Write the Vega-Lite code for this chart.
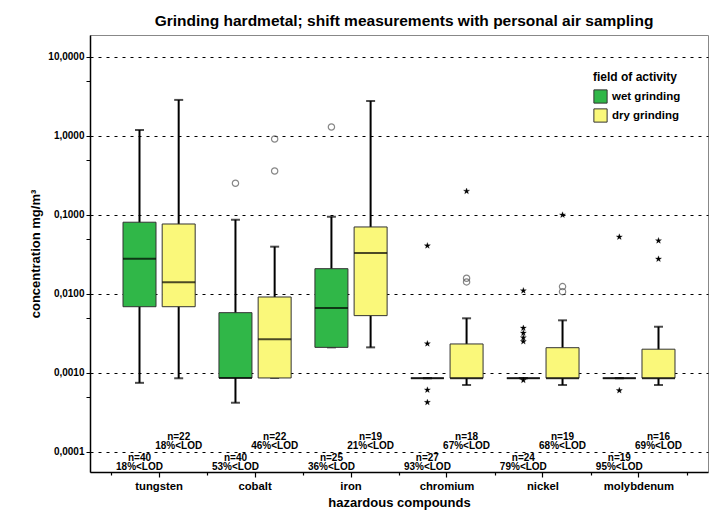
{
  "$schema": "https://vega.github.io/schema/vega-lite/v6.json",
  "width": 618,
  "height": 437,
  "autosize": {"type": "none"},
  "padding": {"left": 90, "top": 35, "right": 9, "bottom": 38},
  "config": {
    "font": "Liberation Sans",
    "view": {"stroke": "#888", "strokeWidth": 1},
    "title": {"fontSize": 15.5, "fontWeight": "bold", "color": "#000", "offset": 6, "anchor": "middle", "dx": 5}
  },
  "title": "Grinding hardmetal; shift measurements with personal air sampling",
  "datasets": {
    "boxes": [
      {"compound": "tungsten", "activity": "wet grinding", "lower": 0.00075, "q1": 0.0069, "median": 0.028, "q3": 0.081, "upper": 1.19},
      {"compound": "tungsten", "activity": "dry grinding", "lower": 0.000857, "q1": 0.0069, "median": 0.01406, "q3": 0.0769, "upper": 2.86},
      {"compound": "cobalt", "activity": "wet grinding", "lower": 0.00042, "q1": 0.000865, "median": 0.000865, "q3": 0.0058, "upper": 0.087},
      {"compound": "cobalt", "activity": "dry grinding", "lower": 0.000865, "q1": 0.000865, "median": 0.00267, "q3": 0.00916, "upper": 0.0397},
      {"compound": "iron", "activity": "wet grinding", "lower": 0.00211, "q1": 0.00211, "median": 0.00665, "q3": 0.0209, "upper": 0.095},
      {"compound": "iron", "activity": "dry grinding", "lower": 0.00211, "q1": 0.00532, "median": 0.033, "q3": 0.0705, "upper": 2.77},
      {"compound": "chromium", "activity": "wet grinding", "lower": 0.00086, "q1": 0.00086, "median": 0.00086, "q3": 0.00086, "upper": 0.00086},
      {"compound": "chromium", "activity": "dry grinding", "lower": 0.000705, "q1": 0.00086, "median": 0.00086, "q3": 0.00233, "upper": 0.00492},
      {"compound": "nickel", "activity": "wet grinding", "lower": 0.00086, "q1": 0.00086, "median": 0.00086, "q3": 0.00086, "upper": 0.00086},
      {"compound": "nickel", "activity": "dry grinding", "lower": 0.000705, "q1": 0.00086, "median": 0.00086, "q3": 0.00209, "upper": 0.00464},
      {"compound": "molybdenum", "activity": "wet grinding", "lower": 0.00086, "q1": 0.00086, "median": 0.00086, "q3": 0.00086, "upper": 0.00086},
      {"compound": "molybdenum", "activity": "dry grinding", "lower": 0.000705, "q1": 0.00086, "median": 0.00086, "q3": 0.002, "upper": 0.00385}
    ],
    "outliers": [
      {"compound": "cobalt", "activity": "wet grinding", "value": 0.252, "kind": "outlier"},
      {"compound": "cobalt", "activity": "dry grinding", "value": 0.916, "kind": "outlier"},
      {"compound": "cobalt", "activity": "dry grinding", "value": 0.36, "kind": "outlier"},
      {"compound": "iron", "activity": "wet grinding", "value": 1.3, "kind": "outlier"},
      {"compound": "chromium", "activity": "wet grinding", "value": 0.0408, "kind": "extreme"},
      {"compound": "chromium", "activity": "wet grinding", "value": 0.00235, "kind": "extreme"},
      {"compound": "chromium", "activity": "wet grinding", "value": 0.00061, "kind": "extreme"},
      {"compound": "chromium", "activity": "wet grinding", "value": 0.000425, "kind": "extreme"},
      {"compound": "chromium", "activity": "dry grinding", "value": 0.2, "kind": "extreme"},
      {"compound": "chromium", "activity": "dry grinding", "value": 0.0158, "kind": "outlier"},
      {"compound": "chromium", "activity": "dry grinding", "value": 0.0142, "kind": "outlier"},
      {"compound": "nickel", "activity": "wet grinding", "value": 0.011, "kind": "extreme"},
      {"compound": "nickel", "activity": "wet grinding", "value": 0.0037, "kind": "extreme"},
      {"compound": "nickel", "activity": "wet grinding", "value": 0.0032, "kind": "extreme"},
      {"compound": "nickel", "activity": "wet grinding", "value": 0.0028, "kind": "extreme"},
      {"compound": "nickel", "activity": "wet grinding", "value": 0.0025, "kind": "extreme"},
      {"compound": "nickel", "activity": "wet grinding", "value": 0.00081, "kind": "extreme"},
      {"compound": "nickel", "activity": "dry grinding", "value": 0.1, "kind": "extreme"},
      {"compound": "nickel", "activity": "dry grinding", "value": 0.0124, "kind": "outlier"},
      {"compound": "nickel", "activity": "dry grinding", "value": 0.0107, "kind": "outlier"},
      {"compound": "molybdenum", "activity": "wet grinding", "value": 0.0527, "kind": "extreme"},
      {"compound": "molybdenum", "activity": "wet grinding", "value": 0.0006, "kind": "extreme"},
      {"compound": "molybdenum", "activity": "dry grinding", "value": 0.0473, "kind": "extreme"},
      {"compound": "molybdenum", "activity": "dry grinding", "value": 0.0277, "kind": "extreme"}
    ],
    "labels": [
      {"compound": "tungsten", "activity": "wet grinding", "n": "n=40", "lod": "18%<LOD"},
      {"compound": "tungsten", "activity": "dry grinding", "n": "n=22", "lod": "18%<LOD"},
      {"compound": "cobalt", "activity": "wet grinding", "n": "n=40", "lod": "53%<LOD"},
      {"compound": "cobalt", "activity": "dry grinding", "n": "n=22", "lod": "46%<LOD"},
      {"compound": "iron", "activity": "wet grinding", "n": "n=25", "lod": "36%<LOD"},
      {"compound": "iron", "activity": "dry grinding", "n": "n=19", "lod": "21%<LOD"},
      {"compound": "chromium", "activity": "wet grinding", "n": "n=27", "lod": "93%<LOD"},
      {"compound": "chromium", "activity": "dry grinding", "n": "n=18", "lod": "67%<LOD"},
      {"compound": "nickel", "activity": "wet grinding", "n": "n=24", "lod": "79%<LOD"},
      {"compound": "nickel", "activity": "dry grinding", "n": "n=19", "lod": "68%<LOD"},
      {"compound": "molybdenum", "activity": "wet grinding", "n": "n=19", "lod": "95%<LOD"},
      {"compound": "molybdenum", "activity": "dry grinding", "n": "n=16", "lod": "69%<LOD"}
    ]
  },
  "resolve": {"axis": {"x": "independent"}},
  "layer": [
    {
      "encoding": {
        "x": {
          "field": "compound", "type": "nominal",
          "sort": ["tungsten", "cobalt", "iron", "chromium", "nickel", "molybdenum"],
          "scale": {"paddingInner": 0, "paddingOuter": 0.22},
          "axis": {
            "orient": "bottom",
            "title": "hazardous compounds", "titleFontSize": 13, "titleFontWeight": "bold", "titleColor": "#000", "titlePadding": 5,
            "labelAngle": 0, "labelFontSize": 11.3, "labelFontWeight": "bold", "labelColor": "#000", "labelPadding": 3,
            "domainColor": "#000", "domainWidth": 1.5, "tickColor": "#000", "tickSize": 5, "tickWidth": 1.2, "grid": false
          }
        },
        "xOffset": {
          "field": "activity", "type": "nominal",
          "scale": {"domain": ["wet grinding", "dry grinding"], "paddingInner": 0, "paddingOuter": 0.2245}
        }
      },
      "layer": [
        {
          "data": {"name": "boxes"},
          "mark": {"type": "rule", "color": "#000", "strokeWidth": 2},
          "encoding": {
            "y": {
              "field": "lower", "type": "quantitative",
              "scale": {"type": "log", "domain": [0.0000558, 18.97], "nice": false},
              "axis": {
                "orient": "left",
                "title": "concentration mg/m³", "titleFontSize": 13, "titleFontWeight": "bold", "titleColor": "#000", "titlePadding": 5,
                "values": [0.0001, 0.0005, 0.001, 0.005, 0.01, 0.05, 0.1, 0.5, 1, 5, 10],
                "labelExpr": "abs(log(datum.value)/LN10 - round(log(datum.value)/LN10)) < 0.01 ? replace(format(datum.value, '.4f'), '.', ',') : ''",
                "labelFontSize": 10, "labelFontWeight": "bold", "labelColor": "#000", "labelPadding": 2,
                "domainColor": "#000", "domainWidth": 1.5, "tickColor": "#000", "tickWidth": 1, "tickSize": 4,
                "grid": true, "gridColor": "#000", "gridDash": [3, 5], "gridWidth": 1,
                "gridOpacity": {"condition": {"test": "abs(log(datum.value)/LN10 - round(log(datum.value)/LN10)) < 0.01", "value": 1}, "value": 0}
              }
            },
            "y2": {"field": "upper"}
          }
        },
        {
          "data": {"name": "boxes"},
          "mark": {"type": "tick", "color": "#000", "thickness": 2, "size": 9, "orient": "horizontal"},
          "encoding": {"y": {"field": "lower", "type": "quantitative"}}
        },
        {
          "data": {"name": "boxes"},
          "mark": {"type": "tick", "color": "#000", "thickness": 2, "size": 9, "orient": "horizontal"},
          "encoding": {"y": {"field": "upper", "type": "quantitative"}}
        },
        {
          "data": {"name": "boxes"},
          "mark": {"type": "bar", "width": 33, "stroke": "#333", "strokeWidth": 1, "opacity": 1},
          "encoding": {
            "y": {"field": "q1", "type": "quantitative"},
            "y2": {"field": "q3"},
            "color": {
              "field": "activity", "type": "nominal",
              "scale": {"domain": ["wet grinding", "dry grinding"], "range": ["#30B748", "#FAF87A"]},
              "legend": {
                "title": "field of activity", "orient": "none", "legendX": 503, "legendY": 37,
                "titleFontSize": 12, "titleFontWeight": "bold", "titleColor": "#000", "titlePadding": 5,
                "labelFontSize": 11.5, "labelFontWeight": "bold", "labelColor": "#000", "labelOffset": 4,
                "symbolType": "square", "symbolSize": 175, "symbolStrokeColor": "#333", "symbolStrokeWidth": 1, "symbolOpacity": 1,
                "rowPadding": 0
              }
            }
          }
        },
        {
          "data": {"name": "boxes"},
          "mark": {"type": "tick", "color": "#000", "thickness": 2, "size": 33, "orient": "horizontal"},
          "encoding": {"y": {"field": "median", "type": "quantitative"}}
        },
        {
          "data": {"name": "outliers"},
          "transform": [{"filter": "datum.kind === 'outlier'"}],
          "mark": {"type": "point", "shape": "circle", "filled": false, "stroke": "#555", "strokeWidth": 1.2, "size": 40},
          "encoding": {"y": {"field": "value", "type": "quantitative"}}
        },
        {
          "data": {"name": "outliers"},
          "transform": [{"filter": "datum.kind === 'extreme'"}],
          "mark": {"type": "point", "shape": "M0,-1L0.235,-0.324L0.951,-0.309L0.38,0.124L0.588,0.809L0,0.4L-0.588,0.809L-0.38,0.124L-0.951,-0.309L-0.235,-0.324Z", "filled": true, "fill": "#000", "stroke": "#000", "strokeWidth": 0.3, "size": 40, "opacity": 1},
          "encoding": {"y": {"field": "value", "type": "quantitative"}}
        },
        {
          "data": {"name": "labels"},
          "transform": [{"filter": "datum.activity === 'wet grinding'"}],
          "mark": {"type": "text", "fontSize": 10, "fontWeight": "bold", "color": "#000", "baseline": "middle"},
          "encoding": {"y": {"datum": 0.0000839, "type": "quantitative"}, "text": {"field": "n", "type": "nominal"}}
        },
        {
          "data": {"name": "labels"},
          "transform": [{"filter": "datum.activity === 'wet grinding'"}],
          "mark": {"type": "text", "fontSize": 10, "fontWeight": "bold", "color": "#000", "baseline": "middle"},
          "encoding": {"y": {"datum": 0.0000637, "type": "quantitative"}, "text": {"field": "lod", "type": "nominal"}}
        },
        {
          "data": {"name": "labels"},
          "transform": [{"filter": "datum.activity === 'dry grinding'"}],
          "mark": {"type": "text", "fontSize": 10, "fontWeight": "bold", "color": "#000", "baseline": "middle"},
          "encoding": {"y": {"datum": 0.0001548, "type": "quantitative"}, "text": {"field": "n", "type": "nominal"}}
        },
        {
          "data": {"name": "labels"},
          "transform": [{"filter": "datum.activity === 'dry grinding'"}],
          "mark": {"type": "text", "fontSize": 10, "fontWeight": "bold", "color": "#000", "baseline": "middle"},
          "encoding": {"y": {"datum": 0.0001174, "type": "quantitative"}, "text": {"field": "lod", "type": "nominal"}}
        }
      ]
    },
    {
      "data": {"name": "boxes"},
      "mark": {"type": "tick", "opacity": 0},
      "encoding": {
        "x": {
          "field": "compound", "type": "nominal",
          "sort": ["tungsten", "cobalt", "iron", "chromium", "nickel", "molybdenum"],
          "scale": {"paddingInner": 0, "paddingOuter": 0.22},
          "axis": {
            "orient": "bottom", "title": null, "labels": false, "domain": false, "grid": false,
            "tickBand": "extent", "tickColor": "#000", "tickSize": 3, "tickWidth": 1.2
          }
        },
        "y": {"field": "median", "type": "quantitative"}
      }
    }
  ]
}
